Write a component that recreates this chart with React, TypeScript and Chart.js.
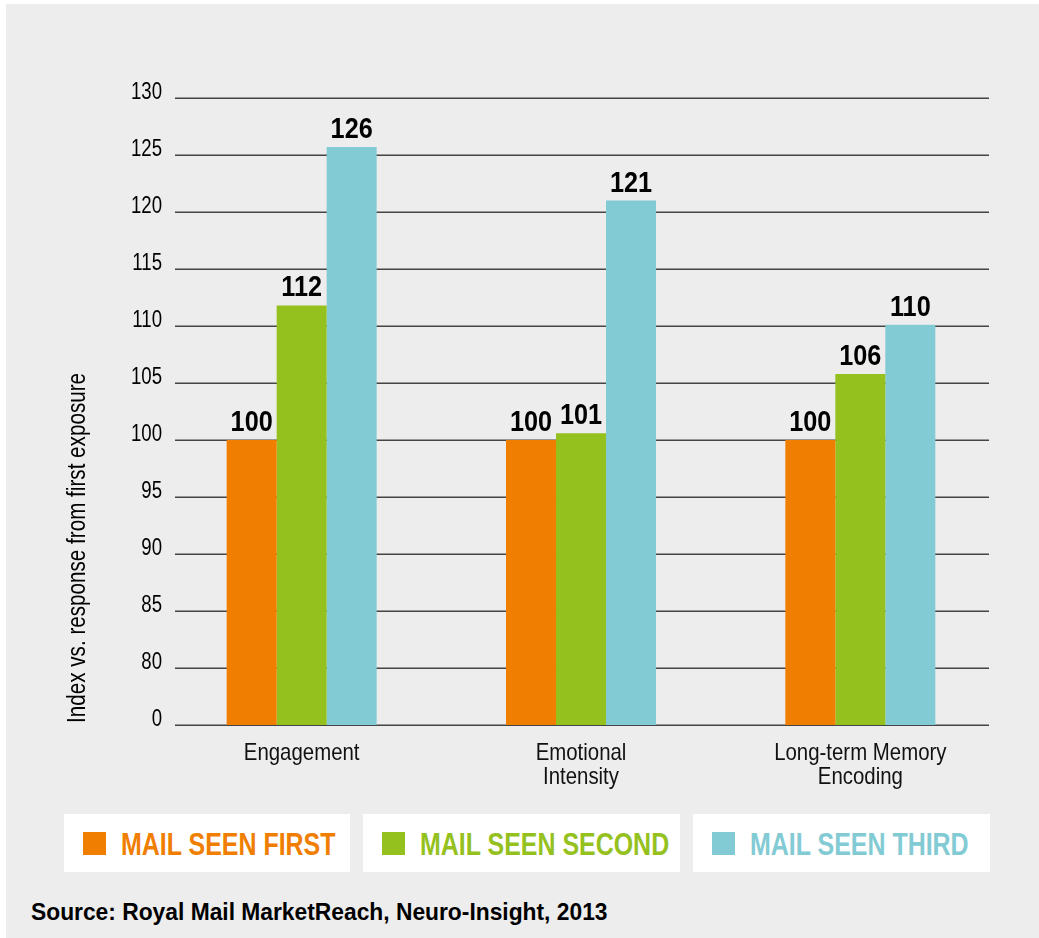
import React, { useEffect, useRef } from "react";
import { Chart, registerables } from "chart.js";

Chart.register(...registerables);

const categories: string[][] = [
  ["Engagement"],
  ["Emotional", "Intensity"],
  ["Long-term Memory", "Encoding"],
];
const seriesNames = ["MAIL SEEN FIRST", "MAIL SEEN SECOND", "MAIL SEEN THIRD"];
const seriesColors = ["#f07e00", "#95c11f", "#82cbd4"];
const mailSeenFirst = [100, 100, 100];
const mailSeenSecond = [111.8, 100.6, 105.8];
const mailSeenThird = [125.7, 121, 110.1];
const valueLabels = [
  ["100", "100", "100"],
  ["112", "101", "106"],
  ["126", "121", "110"],
];
const yMin = 75;
const yMax = 130;
const yStep = 5;
const yAxisTitle = "Index vs. response from first exposure";
const sourceText = "Source: Royal Mail MarketReach, Neuro-Insight, 2013";

const FONT = "'Liberation Sans', Arial, Helvetica, sans-serif";
const BG = "#ededed";
const LEGEND_WIDTHS = [286, 317, 297];

function drawCondensed(ctx: any, text: string, x: number, y: number, sx: number, align: string) {
  ctx.save();
  ctx.translate(x, y);
  ctx.scale(sx, 1);
  ctx.textAlign = align;
  ctx.fillText(text, 0, 0);
  ctx.restore();
}

const gridPlugin = {
  id: "customGrid",
  beforeDatasetsDraw(chart: any) {
    const { ctx, chartArea } = chart;
    const y = chart.scales.y;
    ctx.save();
    ctx.strokeStyle = "#454545";
    ctx.lineWidth = 1.5;
    y.ticks.forEach((t: any) => {
      const py = Math.round(y.getPixelForValue(t.value)) + 0.25;
      ctx.beginPath();
      ctx.moveTo(chartArea.left + 13, py);
      ctx.lineTo(chartArea.right - 11, py);
      ctx.stroke();
    });
    ctx.restore();
  },
};

const textPlugin = {
  id: "condensedText",
  afterDatasetsDraw(chart: any) {
    const { ctx, chartArea } = chart;
    const xs = chart.scales.x;
    const ys = chart.scales.y;
    ctx.save();
    ctx.textBaseline = "alphabetic";

    // y tick labels
    ctx.font = `23px ${FONT}`;
    ctx.fillStyle = "#000";
    ys.ticks.forEach((t: any) => {
      const py = ys.getPixelForValue(t.value);
      const txt = t.value === yMin ? "0" : String(t.value);
      drawCondensed(ctx, txt, chartArea.left, py + 1, 0.81, "right");
    });

    // x category labels
    ctx.font = `24px ${FONT}`;
    ctx.fillStyle = "#111";
    categories.forEach((lines, i) => {
      const px = xs.getPixelForValue(i);
      lines.forEach((ln, li) => {
        drawCondensed(ctx, ln, px, chartArea.bottom + 35 + li * 24, 0.85, "center");
      });
    });

    // y title
    ctx.font = `25px ${FONT}`;
    ctx.fillStyle = "#000";
    ctx.save();
    ctx.translate(chartArea.left - 77, chartArea.bottom - 2);
    ctx.rotate(-Math.PI / 2);
    ctx.scale(0.826, 1);
    ctx.textAlign = "left";
    ctx.fillText(yAxisTitle, 0, 0);
    ctx.restore();

    // value labels
    ctx.font = `bold 29px ${FONT}`;
    ctx.fillStyle = "#000";
    chart.data.datasets.forEach((ds: any, di: number) => {
      const meta = chart.getDatasetMeta(di);
      meta.data.forEach((el: any, i: number) => {
        drawCondensed(ctx, valueLabels[di][i], el.x, el.y - 9, 0.87, "center");
      });
    });
    ctx.restore();
  },
};

export default function App() {
  const ref = useRef<HTMLCanvasElement | null>(null);
  useEffect(() => {
    if (!ref.current) return;
    const data = [mailSeenFirst, mailSeenSecond, mailSeenThird];
    const chart = new Chart(ref.current, {
      type: "bar",
      data: {
        labels: categories,
        datasets: data.map((d, i) => ({
          label: seriesNames[i],
          data: d,
          backgroundColor: seriesColors[i],
          borderWidth: 0,
          categoryPercentage: 0.537,
          barPercentage: 1,
          base: yMin,
        })),
      },
      options: {
        animation: false,
        responsive: false,
        layout: { padding: { left: 62, right: 39, top: 98, bottom: 0 } },
        plugins: { legend: { display: false }, tooltip: { enabled: false } },
        scales: {
          x: {
            grid: { display: false, drawTicks: false },
            border: { display: false },
            ticks: { display: false, autoSkip: false },
            afterFit: (s: any) => {
              s.height = 75;
            },
          },
          y: {
            min: yMin,
            max: yMax,
            grid: { display: false, drawTicks: false },
            border: { display: false },
            ticks: { display: false, stepSize: yStep },
            afterFit: (s: any) => {
              s.width = 100;
            },
          },
        },
      },
      plugins: [gridPlugin, textPlugin],
    });
    return () => chart.destroy();
  }, []);

  return (
    <div style={{ position: "absolute", left: 0, top: 0, width: 1039, height: 938, background: "#fff", overflow: "hidden" }}>
      <div style={{ position: "absolute", left: 6, top: 4, right: 0, bottom: 0, background: BG }} />
      <canvas ref={ref} width={1039} height={800} style={{ position: "absolute", left: 0, top: 0, width: 1039, height: 800 }} />
      <div style={{ position: "absolute", left: 64, top: 814, height: 58, display: "flex", gap: 13 }}>
        {seriesNames.map((n, i) => (
          <div
            key={n}
            style={{ position: "relative", width: LEGEND_WIDTHS[i], height: 58, background: "#fff", flex: "none" }}
          >
            <div style={{ position: "absolute", left: 19, top: 18, width: 23, height: 23, background: seriesColors[i] }} />
            <span
              style={{
                position: "absolute",
                left: 57,
                top: 14,
                fontFamily: FONT,
                fontWeight: "bold",
                fontSize: 32,
                lineHeight: "32px",
                color: seriesColors[i],
                whiteSpace: "nowrap",
                transform: "scaleX(0.78)",
                transformOrigin: "0 0",
              }}
            >
              {n}
            </span>
          </div>
        ))}
      </div>
      <div
        style={{
          position: "absolute",
          left: 31,
          top: 900,
          fontFamily: FONT,
          fontWeight: "bold",
          fontSize: 24,
          lineHeight: "24px",
          color: "#000",
          whiteSpace: "nowrap",
          transform: "scaleX(0.95)",
          transformOrigin: "0 0",
        }}
      >
        {sourceText}
      </div>
    </div>
  );
}
